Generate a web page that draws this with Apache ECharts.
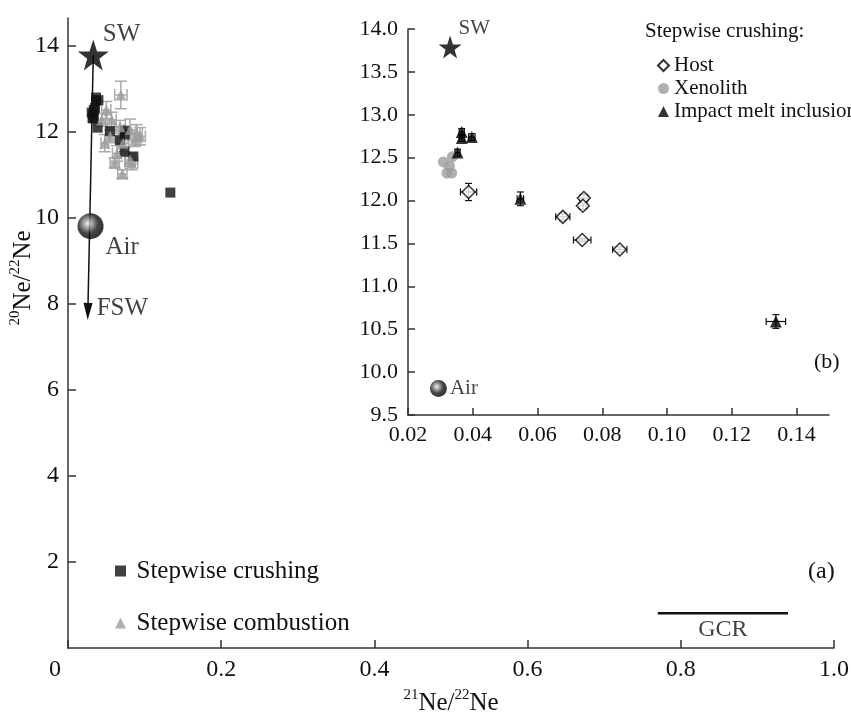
<!DOCTYPE html>
<html>
<head>
<meta charset="utf-8">
<script src="https://cdn.jsdelivr.net/npm/echarts@6/dist/echarts.min.js"></script>
<style>
  html, body { margin: 0; padding: 0; background: #fff; }
  #chart { width: 851px; height: 713px; }
</style>
</head>
<body>
<div id="chart"></div>
<script>
const FONT = '"Liberation Serif", "DejaVu Serif", serif'
const INK = '#111'
const GREY = '#9c9c9c'

// ── (a) stepwise combustion: [x, y, xErr, yErr] ──
const combustion = [
  [0.069, 12.86, 0.008, 0.32],
  [0.050, 12.51, 0.006, 0.20],
  [0.044, 12.28, 0.005, 0.15],
  [0.057, 12.28, 0.006, 0.18],
  [0.068, 12.12, 0.007, 0.15],
  [0.081, 12.05, 0.008, 0.25],
  [0.090, 11.97, 0.007, 0.20],
  [0.094, 11.90, 0.007, 0.20],
  [0.055, 11.90, 0.006, 0.15],
  [0.087, 11.81, 0.008, 0.15],
  [0.048, 11.74, 0.005, 0.20],
  [0.072, 11.74, 0.007, 0.20],
  [0.064, 11.50, 0.006, 0.18],
  [0.081, 11.35, 0.007, 0.15],
  [0.061, 11.28, 0.006, 0.12],
  [0.083, 11.27, 0.008, 0.15],
  [0.071, 11.02, 0.006, 0.10],
]

// ── (b) stepwise crushing: [x, y, xErr, yErr] ──
const host = [
  [0.0387, 12.10, 0.0025, 0.10],
  [0.0743, 12.03, 0.0012, 0.04],
  [0.0740, 11.94, 0.0012, 0.04],
  [0.0678, 11.81, 0.0022, 0.04],
  [0.0738, 11.54, 0.0027, 0.02],
  [0.0854, 11.43, 0.0022, 0.03],
]
const xenolith = [
  [0.0309, 12.45],
  [0.0328, 12.40],
  [0.0337, 12.51],
  [0.0320, 12.32],
  [0.0335, 12.32],
]
const impact = [
  [0.0366, 12.80, 0.0008, 0.04],
  [0.0366, 12.73, 0.0008, 0.04],
  [0.0397, 12.74, 0.0010, 0.04],
  [0.0353, 12.56, 0.0008, 0.04],
  [0.0547, 12.02, 0.0010, 0.08],
  [0.1336, 10.59, 0.0030, 0.08],
]

// reference compositions
const swPoint = [0.033, 13.79]
const airPoint = [0.0294, 9.81]
const fswPoint = [0.0257, 7.63]
const gcrRange = [0.77, 0.94]
const gcrLevel = 0.81

// tick labels
const mainXTicks = [0, 0.2, 0.4, 0.6, 0.8, 1.0]
const mainYTicks = [2, 4, 6, 8, 10, 12, 14]
const insetXTicks = [0.02, 0.04, 0.06, 0.08, 0.10, 0.12, 0.14]

const crushingAll = host.concat(xenolith, impact).map(d => [d[0], d[1]])

const STAR = 'path://M50,0 L61.8,35.1 L98.1,35.1 L68.8,56.8 L79.4,91 L50,70 L20.6,91 L31.2,56.8 L1.9,35.1 L38.2,35.1 Z'
const SQUARE_ICON = 'path://M0,0H10V10H0Z'
const TRI_ICON = 'path://M5,0L10,10L0,10Z'
const airFill = new echarts.graphic.RadialGradient(0.4, 0.4, 0.62, [
  { offset: 0, color: '#f2f2f2' },
  { offset: 0.28, color: '#8a8a8a' },
  { offset: 0.62, color: '#151515' },
  { offset: 1, color: '#000' },
])
const HIDDEN = { color: 'rgba(0,0,0,0)' }

// 误差棒
function errorBars(color, halfCap, width) {
  return (params, api) => {
    const x = api.value(0), y = api.value(1), ex = api.value(2), ey = api.value(3)
    const st = { stroke: color, lineWidth: width }
    const ch = []
    if (ex > 0) {
      const l = api.coord([x - ex, y]), r = api.coord([x + ex, y])
      ch.push({ type: 'line', shape: { x1: l[0], y1: l[1], x2: r[0], y2: r[1] }, style: st })
      ch.push({ type: 'line', shape: { x1: l[0], y1: l[1] - halfCap, x2: l[0], y2: l[1] + halfCap }, style: st })
      ch.push({ type: 'line', shape: { x1: r[0], y1: r[1] - halfCap, x2: r[0], y2: r[1] + halfCap }, style: st })
    }
    if (ey > 0) {
      const t = api.coord([x, y + ey]), b = api.coord([x, y - ey])
      ch.push({ type: 'line', shape: { x1: t[0], y1: t[1], x2: b[0], y2: b[1] }, style: st })
      ch.push({ type: 'line', shape: { x1: t[0] - halfCap, y1: t[1], x2: t[0] + halfCap, y2: t[1] }, style: st })
      ch.push({ type: 'line', shape: { x1: b[0] - halfCap, y1: b[1], x2: b[0] + halfCap, y2: b[1] }, style: st })
    }
    return { type: 'group', children: ch }
  }
}

// SW -> FSW 箭头
function arrowItem(params, api) {
  const p1 = api.coord([api.value(0), api.value(1)])
  const p2 = api.coord([api.value(2), api.value(3)])
  const dx = p2[0] - p1[0], dy = p2[1] - p1[1]
  const len = Math.hypot(dx, dy)
  const ux = dx / len, uy = dy / len
  const hl = 17, hw = 4.5
  const bx = p2[0] - ux * hl, by = p2[1] - uy * hl
  return {
    type: 'group',
    children: [
      { type: 'line', shape: { x1: p1[0], y1: p1[1], x2: bx, y2: by }, style: { stroke: INK, lineWidth: 1.5 } },
      { type: 'polygon', shape: { points: [p2, [bx - uy * hw, by + ux * hw], [bx + uy * hw, by - ux * hw]] }, style: { fill: INK } },
    ],
  }
}

const supRich = {
  s: { fontSize: 15, fontFamily: FONT, color: INK, verticalAlign: 'top', lineHeight: 15 },
  n: { fontSize: 25, fontFamily: FONT, color: INK, verticalAlign: 'bottom', lineHeight: 28 },
}

const axisBase = {
  axisLine: { show: true, lineStyle: { color: '#333', width: 1.5 } },
  axisTick: { show: true, inside: true, length: 8, lineStyle: { color: '#333', width: 1.5 } },
  splitLine: { show: false },
}

const chart = echarts.init(document.getElementById('chart'))

chart.setOption({
  animation: false,
  textStyle: { fontFamily: FONT, color: INK },
  grid: [
    { left: 68, top: 18, width: 766, height: 630, outerBoundsMode: 'none', containLabel: false },
    { left: 408, top: 29, width: 421, height: 386, outerBoundsMode: 'none', containLabel: false },
  ],
  xAxis: [
    {
      ...axisBase, type: 'value', gridIndex: 0, min: 0, max: 1,
      axisTick: { ...axisBase.axisTick, customValues: mainXTicks },
      axisLabel: {
        customValues: mainXTicks, margin: 10, fontSize: 24, color: INK, fontFamily: FONT,
        formatter: v => v === 0 ? '{z|0}' : v.toFixed(1),
        rich: { z: { fontSize: 24, fontFamily: FONT, color: INK, padding: [0, 26, 0, 0] } },
      },
      name: '{s|21}{n|Ne/}{s|22}{n|Ne}', nameLocation: 'middle', nameGap: 40, nameMoveOverlap: false,
      nameTextStyle: { rich: supRich },
    },
    {
      ...axisBase, type: 'value', gridIndex: 1, min: 0.02, max: 0.15,
      axisTick: { ...axisBase.axisTick, length: 7, customValues: insetXTicks },
      axisLabel: {
        customValues: insetXTicks, margin: 9, fontSize: 22, color: INK, fontFamily: FONT,
        formatter: v => v.toFixed(2),
      },
    },
  ],
  yAxis: [
    {
      ...axisBase, type: 'value', gridIndex: 0, min: 0, max: 14.65,
      axisTick: { ...axisBase.axisTick, customValues: mainYTicks },
      axisLabel: { customValues: mainYTicks, margin: 9, fontSize: 24, color: INK, fontFamily: FONT },
      name: '{s|20}{n|Ne/}{s|22}{n|Ne}', nameLocation: 'middle', nameGap: 32, nameRotate: 90, nameMoveOverlap: false,
      nameTextStyle: { rich: supRich, padding: [0, 0, 0, 110] },
    },
    {
      ...axisBase, type: 'value', gridIndex: 1, min: 9.5, max: 14.0, interval: 0.5,
      axisTick: { ...axisBase.axisTick, length: 7 },
      axisLabel: { margin: 10, fontSize: 22, color: INK, fontFamily: FONT, formatter: v => v.toFixed(1) },
    },
  ],
  legend: [
    {
      data: [
        { name: 'Stepwise crushing', icon: SQUARE_ICON },
        { name: 'Stepwise combustion', icon: TRI_ICON },
      ],
      orient: 'vertical', left: 110, top: 553,
      itemWidth: 22, itemHeight: 11, itemGap: 26,
      selectedMode: false,
      textStyle: { fontSize: 25, fontFamily: FONT, color: INK, lineHeight: 26 },
    },
    {
      data: ['Host', 'Xenolith', 'Impact melt inclusion'],
      orient: 'vertical', left: 652, top: 50,
      itemWidth: 11, itemHeight: 11, itemGap: 2,
      selectedMode: false,
      textStyle: { fontSize: 21, fontFamily: FONT, color: INK, lineHeight: 21 },
    },
  ],
  graphic: [
    { type: 'text', left: 645, top: 21, style: { text: 'Stepwise crushing:', font: '21px ' + FONT, fill: INK } },
    { type: 'text', left: 808, top: 560, style: { text: '(a)', font: '24px ' + FONT, fill: INK } },
    { type: 'text', left: 814, top: 351, style: { text: '(b)', font: '22px ' + FONT, fill: INK } },
  ],
  series: [
    // ── (a) ──
    {
      name: 'Stepwise crushing', type: 'scatter', xAxisIndex: 0, yAxisIndex: 0,
      data: crushingAll, symbol: 'rect', symbolSize: 10,
      itemStyle: { color: '#111' },
    },
    {
      type: 'custom', xAxisIndex: 0, yAxisIndex: 0,
      data: combustion, encode: { x: 0, y: 1 },
      renderItem: errorBars('#aaaaaa', 6, 1.5),
    },
    {
      name: 'Stepwise combustion', type: 'scatter', xAxisIndex: 0, yAxisIndex: 0,
      data: combustion.map(d => [d[0], d[1]]), symbol: 'triangle', symbolSize: 11,
      itemStyle: { color: GREY },
    },
    {
      type: 'custom', xAxisIndex: 0, yAxisIndex: 0,
      data: [[...swPoint, ...fswPoint]], encode: { x: [0, 2], y: [1, 3] },
      renderItem: arrowItem,
    },
    {
      type: 'scatter', xAxisIndex: 0, yAxisIndex: 0,
      data: [swPoint], symbol: STAR, symbolSize: 31,
      itemStyle: { color: '#000' },
      label: { show: true, formatter: 'SW', position: 'right', distance: -6, offset: [0, -21], fontSize: 25, fontFamily: FONT, color: INK },
    },
    {
      type: 'scatter', xAxisIndex: 0, yAxisIndex: 0,
      data: [airPoint], symbol: 'circle', symbolSize: 26,
      itemStyle: { color: airFill },
      label: { show: true, formatter: 'Air', position: 'right', distance: 2, offset: [0, 21], fontSize: 25, fontFamily: FONT, color: INK },
    },
    {
      type: 'scatter', xAxisIndex: 0, yAxisIndex: 0,
      data: [fswPoint], symbol: 'circle', symbolSize: 2, itemStyle: HIDDEN,
      label: { show: true, formatter: 'FSW', position: 'right', distance: 8, offset: [0, -11], fontSize: 25, fontFamily: FONT, color: INK },
    },
    {
      type: 'line', xAxisIndex: 0, yAxisIndex: 0,
      data: gcrRange.map(x => [x, gcrLevel]), symbol: 'none',
      lineStyle: { color: INK, width: 2.5 },
    },
    {
      type: 'scatter', xAxisIndex: 0, yAxisIndex: 0,
      data: [[(gcrRange[0] + gcrRange[1]) / 2, gcrLevel]], symbol: 'circle', symbolSize: 2, itemStyle: HIDDEN,
      label: { show: true, formatter: 'GCR', position: 'bottom', distance: 4, fontSize: 24, fontFamily: FONT, color: INK },
    },
    // ── (b) ──
    {
      type: 'custom', xAxisIndex: 1, yAxisIndex: 1,
      data: host, encode: { x: 0, y: 1 },
      renderItem: errorBars(INK, 3.5, 1.2),
    },
    {
      type: 'custom', xAxisIndex: 1, yAxisIndex: 1,
      data: impact, encode: { x: 0, y: 1 },
      renderItem: errorBars(INK, 3.5, 1.2),
    },
    {
      name: 'Xenolith', type: 'scatter', xAxisIndex: 1, yAxisIndex: 1,
      data: xenolith, symbol: 'circle', symbolSize: 11,
      itemStyle: { color: GREY },
    },
    {
      name: 'Host', type: 'scatter', xAxisIndex: 1, yAxisIndex: 1,
      data: host.map(d => [d[0], d[1]]), symbol: 'diamond', symbolSize: 13,
      itemStyle: { color: '#fff', borderColor: '#000', borderWidth: 1.5 },
    },
    {
      name: 'Impact melt inclusion', type: 'scatter', xAxisIndex: 1, yAxisIndex: 1,
      data: impact.map(d => [d[0], d[1]]), symbol: 'triangle', symbolSize: 12,
      itemStyle: { color: '#000' },
    },
    {
      type: 'scatter', xAxisIndex: 1, yAxisIndex: 1,
      data: [swPoint], symbol: STAR, symbolSize: 23,
      itemStyle: { color: '#000' },
      label: { show: true, formatter: 'SW', position: 'right', distance: -3, offset: [0, -19], fontSize: 21, fontFamily: FONT, color: INK },
    },
    {
      type: 'scatter', xAxisIndex: 1, yAxisIndex: 1,
      data: [airPoint], symbol: 'circle', symbolSize: 17,
      itemStyle: { color: airFill },
      label: { show: true, formatter: 'Air', position: 'right', distance: 3, fontSize: 21, fontFamily: FONT, color: INK },
    },
  ],
})
</script>
</body>
</html>
